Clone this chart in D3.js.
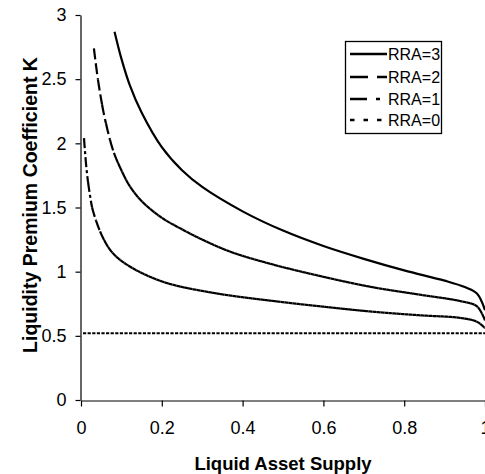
<!DOCTYPE html>
<html>
<head>
<meta charset="utf-8">
<script src="https://cdn.jsdelivr.net/npm/d3@7"></script>
<style>
  body { margin: 0; background: #fff; }
  svg { display: block; font-family: "Liberation Sans", Arial, Helvetica, sans-serif; }
</style>
</head>
<body>
<div id="chart"></div>
<script>
// values (liquid asset supply -> coefficient K)
var supply3 = [0.083, 0.10, 0.12, 0.15, 0.20, 0.25, 0.30, 0.40, 0.50, 0.60, 0.70, 0.80, 0.90, 0.95, 0.98, 1.0];
var coef3   = [2.87, 2.66, 2.46, 2.24, 1.97, 1.79, 1.66, 1.47, 1.32, 1.20, 1.10, 1.01, 0.93, 0.88, 0.83, 0.70];

var supply2 = [0.032, 0.04, 0.05, 0.06, 0.08, 0.10, 0.12, 0.15, 0.20, 0.25, 0.30, 0.37, 0.47, 0.60, 0.72, 0.84, 0.94, 0.98, 1.0];
var coef2   = [2.74, 2.54, 2.34, 2.18, 1.94, 1.79, 1.67, 1.55, 1.42, 1.33, 1.25, 1.155, 1.06, 0.96, 0.88, 0.82, 0.77, 0.73, 0.62];

var supply1 = [0.0074, 0.014, 0.022, 0.030, 0.055, 0.080, 0.121, 0.204, 0.327, 0.493, 0.592, 0.715, 0.839, 0.938, 0.98, 1.0];
var coef1   = [2.04, 1.79, 1.60, 1.47, 1.26, 1.14, 1.04, 0.92, 0.835, 0.765, 0.73, 0.69, 0.66, 0.64, 0.61, 0.56];

var supply0 = [0.005, 1.0];
var coef0   = [0.52, 0.52];

var seriesNames = ["RRA=3", "RRA=2", "RRA=1", "RRA=0"];
var xTicks = [0, 0.2, 0.4, 0.6, 0.8, 1];
var yTicks = [0, 0.5, 1, 1.5, 2, 2.5, 3];

var width = 485, height = 474;
var plotLeft = 81, plotRight = 485, plotTop = 15, plotBottom = 400;

var svg = d3.select("#chart").append("svg")
    .attr("width", width)
    .attr("height", height);

var x = d3.scaleLinear().domain([0, 1]).range([plotLeft, plotRight]);
var y = d3.scaleLinear().domain([0, 3]).range([plotBottom, plotTop]);

// axes
var yAxis = d3.axisLeft(y).tickValues(yTicks).tickSize(5).tickSizeOuter(0).tickPadding(9)
    .tickFormat(function(d) { return String(d); });
var xAxis = d3.axisBottom(x).tickValues(xTicks).tickSize(6).tickSizeOuter(0).tickPadding(15)
    .tickFormat(function(d) { return String(d); });

var gy = svg.append("g").attr("transform", "translate(" + (plotLeft - 0.5) + ",0)").call(yAxis);
var gx = svg.append("g").attr("transform", "translate(0," + (plotBottom + 0.5) + ")").call(xAxis);
[gx, gy].forEach(function(g) {
    g.selectAll("text").style("font-size", "18px").attr("fill", "#000");
    g.selectAll("line").attr("stroke", "#000").attr("stroke-width", 1.2);
    g.select(".domain").attr("stroke", "#000").attr("stroke-width", 1.2);
});

// titles
svg.append("text")
    .attr("x", (plotLeft + plotRight) / 2)
    .attr("y", 470)
    .attr("text-anchor", "middle")
    .style("font-size", "18.5px")
    .style("font-weight", "bold")
    .text("Liquid Asset Supply");

svg.append("text")
    .attr("transform", "translate(37,205) rotate(-90)")
    .attr("text-anchor", "middle")
    .style("font-size", "19.5px")
    .style("font-weight", "bold")
    .text("Liquidity Premium Coefficient K");

var line = d3.line()
    .x(function(d) { return x(d[0]); })
    .y(function(d) { return y(d[1]); })
    .curve(d3.curveCatmullRom.alpha(0.5));

var plot = svg.append("g");

// excel-style dashing: the pattern restarts every few pixels of x,
// so the flat parts look solid and the steep parts look dashed
function drawChunked(pts, dash) {
    var tmp = plot.append("path").attr("d", line(pts)).attr("fill", "none");
    var node = tmp.node();
    var L = node.getTotalLength();
    var step = 4;
    var chunks = [], cur = [], gridX = 0;
    for (var s = 0; s <= L + 0.25; s += 0.5) {
        var p = node.getPointAtLength(Math.min(s, L));
        if (!cur.length) { cur.push(p); gridX = p.x + step; continue; }
        cur.push(p);
        if (p.x >= gridX) { chunks.push(cur); cur = [p]; gridX += step; }
    }
    if (cur.length > 1) chunks.push(cur);
    tmp.remove();
    plot.selectAll(null).data(chunks).enter().append("path")
        .attr("d", d3.line().x(function(p) { return p.x; }).y(function(p) { return p.y; }))
        .attr("fill", "none")
        .attr("stroke", "#000")
        .attr("stroke-width", 2.2)
        .attr("stroke-dasharray", dash);
}

var pts3 = d3.zip(supply3, coef3);
var pts2 = d3.zip(supply2, coef2);
var pts1 = d3.zip(supply1, coef1);
var pts0 = d3.zip(supply0, coef0);

plot.append("path").attr("d", line(pts0))
    .attr("fill", "none").attr("stroke", "#000").attr("stroke-width", 2.2)
    .attr("stroke-dasharray", "3.2,1.4");
drawChunked(pts1, "10,3,3,3");
drawChunked(pts2, "11,4");
plot.append("path").attr("d", line(pts3))
    .attr("fill", "none").attr("stroke", "#000").attr("stroke-width", 2.2);

// legend
var legDash = [null, "18,9", "17,9,4,9", "4.5,9"];
var legY = [54, 77, 99, 120];
var leg = svg.append("g");
leg.append("rect")
    .attr("x", 345.5).attr("y", 41.5).attr("width", 96).attr("height", 92)
    .attr("fill", "#fff").attr("stroke", "#000").attr("stroke-width", 1.3);
var items = leg.selectAll("g.item").data(seriesNames).enter().append("g")
    .attr("transform", function(d, i) { return "translate(0," + legY[i] + ")"; });
items.append("line")
    .attr("x1", 350).attr("x2", 387)
    .attr("stroke", "#000").attr("stroke-width", 2.4)
    .attr("stroke-dasharray", function(d, i) { return legDash[i]; });
items.append("text")
    .attr("x", 388).attr("dy", "0.36em")
    .style("font-size", "16px")
    .text(function(d) { return d; });
</script>
</body>
</html>
